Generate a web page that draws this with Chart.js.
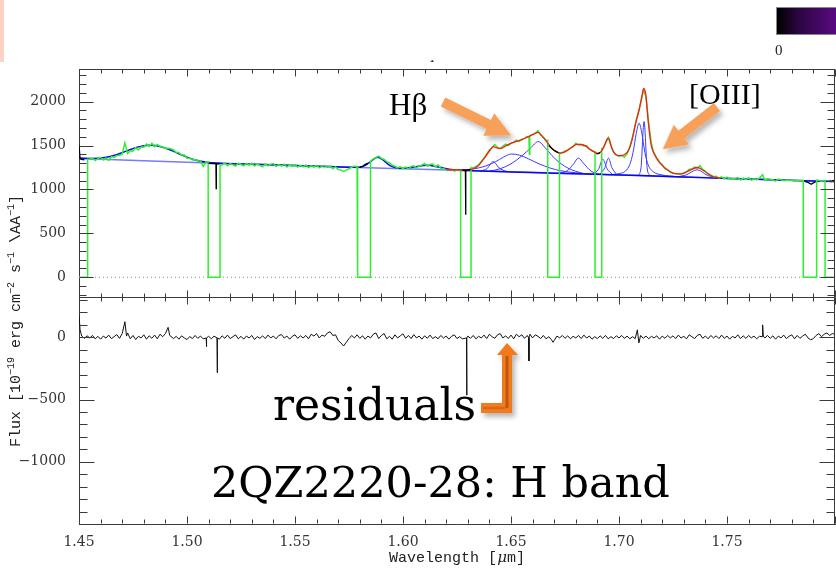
<!DOCTYPE html>
<html><head><meta charset="utf-8">
<script src="https://cdn.jsdelivr.net/npm/chart.js@4"></script>
<style>
html,body{margin:0;padding:0;background:#fff;}
#wrap{position:relative;width:836px;height:570px;overflow:hidden;background:#fff;}
#c{position:absolute;left:0;top:0;}
.ov{position:absolute;white-space:nowrap;line-height:1;color:#000;}
sup{font-size:10px;vertical-align:6px;line-height:0;}
</style></head><body>
<div id="wrap">
<canvas id="c" width="836" height="570"></canvas>
<div style="position:absolute;left:0;top:0;width:4px;height:62px;background:#fcd3c3;"></div>
<div style="position:absolute;left:776px;top:7px;width:62px;height:26px;border:1px solid #888;background:linear-gradient(to right,#000 0%,#2c0640 35%,#5c0a88 100%);"></div>
<div class="ov" style="left:775px;top:42px;font:15px 'Liberation Serif';color:#222;">0</div>
<div style="position:absolute;left:428px;top:60px;width:8px;height:6px;overflow:hidden;"><span style="position:absolute;left:1px;top:-6px;font:10px 'DejaVu Serif';line-height:1;">1</span></div>
<div class="ov" style="left:16px;top:321px;transform:translate(-50%,-50%) rotate(-90deg);font:15px 'Liberation Mono';color:#222;">Flux [10<sup>−19</sup> erg cm<sup>−2</sup> s<sup>−1</sup> \AA<sup>−1</sup>]</div>
<div class="ov" style="left:457px;top:557px;transform:translate(-50%,-50%);font:15px 'Liberation Mono';color:#222;">Wavelength [<i style="font-family:'DejaVu Serif'">μ</i>m]</div>
<div class="ov" style="left:389px;top:87px;font:31px 'Liberation Serif';">Hβ</div>
<div class="ov" style="left:689px;top:77px;font:30px 'Liberation Serif';">[OIII]</div>
<div class="ov" style="left:273px;top:379px;font:44px 'DejaVu Serif';">residuals</div>
<div class="ov" style="left:211px;top:457px;font:43px 'DejaVu Serif';">2QZ2220-28: H band</div>
<svg style="position:absolute;left:0;top:0;" width="836" height="570">
<defs>
<filter id="sh" x="-30%" y="-30%" width="160%" height="160%"><feDropShadow dx="3" dy="4" stdDeviation="2.5" flood-color="#000" flood-opacity="0.28"/></filter>
<linearGradient id="lg" x1="0" y1="0" x2="1" y2="0"><stop offset="0" stop-color="#f7892c"/><stop offset="0.5" stop-color="#b54a05"/><stop offset="1" stop-color="#f7892c"/></linearGradient>
<linearGradient id="lg2" x1="0" y1="0" x2="0" y2="1"><stop offset="0" stop-color="#f7892c"/><stop offset="0.5" stop-color="#d86010"/><stop offset="1" stop-color="#f7892c"/></linearGradient>
</defs>
<g filter="url(#sh)" fill="#f6a05a">
<g transform="translate(443,102) rotate(26.2)"><polygon points="0,-5 51,-5 51,-12.5 76,0 51,12.5 51,5 0,5"/></g>
<g transform="translate(717,107) rotate(142.1)"><polygon points="0,-5 45,-5 45,-12.5 69,0 45,12.5 45,5 0,5"/></g>
</g>
<g filter="url(#sh)">
<polygon fill="#f27a1c" points="481,403 502,403 502,355 497,355 507,343 518,355 512,355 512,413 481,413"/>
<rect x="504" y="356" width="6" height="52" fill="url(#lg)"/>
<rect x="483" y="405" width="22" height="6" fill="url(#lg2)"/>
</g>
</svg>
</div>
<script>
// ---------------- data ----------------
const xTicks = [1.45, 1.50, 1.55, 1.60, 1.65, 1.70, 1.75];
const yTopTicks = [0, 500, 1000, 1500, 2000];
const yBotTicks = [-1000, -500, 0];

// observed spectrum (wavelength in micron, flux in 1e-19 erg/cm2/s/A)
const wave = [1.45000,1.45050,1.45125,1.45250,1.45500,1.45625,1.45750,1.45875,1.46000,1.46125,1.46250,1.46375,1.46500,1.46625,1.46750,1.46875,1.47000,1.47125,1.47250,1.47375,1.47500,1.47625,1.47750,1.47875,1.48000,1.48125,1.48250,1.48375,1.48500,1.48625,1.48750,1.48875,1.49000,1.49125,1.49250,1.49375,1.49500,1.49625,1.49750,1.49875,1.50000,1.50125,1.50250,1.50375,1.50500,1.50625,1.50750,1.50875,1.51000,1.51125,1.51250,1.51340,1.51350,1.51360,1.51500,1.51625,1.51750,1.51875,1.52000,1.52125,1.52250,1.52375,1.52500,1.52625,1.52750,1.52875,1.53000,1.53125,1.53250,1.53375,1.53500,1.53625,1.53750,1.53875,1.54000,1.54125,1.54250,1.54375,1.54500,1.54625,1.54750,1.54875,1.55000,1.55125,1.55250,1.55375,1.55500,1.55625,1.55750,1.55875,1.56000,1.56125,1.56250,1.56375,1.56500,1.56625,1.56750,1.56875,1.57000,1.57125,1.57250,1.57375,1.57500,1.57625,1.57750,1.57875,1.58000,1.58125,1.58250,1.58375,1.58500,1.58625,1.58750,1.58875,1.59000,1.59125,1.59250,1.59375,1.59500,1.59625,1.59750,1.59875,1.60000,1.60125,1.60250,1.60375,1.60500,1.60625,1.60750,1.60875,1.61000,1.61125,1.61250,1.61375,1.61500,1.61625,1.61750,1.61875,1.62000,1.62125,1.62250,1.62375,1.62500,1.62625,1.62750,1.62890,1.62900,1.62910,1.63000,1.63125,1.63250,1.63375,1.63500,1.63625,1.63750,1.63875,1.64000,1.64125,1.64250,1.64375,1.64500,1.64625,1.64750,1.64875,1.65000,1.65125,1.65250,1.65375,1.65500,1.65625,1.65750,1.65830,1.65850,1.65870,1.66000,1.66125,1.66250,1.66375,1.66500,1.66625,1.66750,1.66875,1.67000,1.67125,1.67200,1.67250,1.67375,1.67500,1.67625,1.67750,1.67875,1.68000,1.68125,1.68250,1.68375,1.68500,1.68625,1.68750,1.68850,1.68950,1.69000,1.69125,1.69250,1.69375,1.69500,1.69625,1.69750,1.69875,1.70000,1.70125,1.70250,1.70375,1.70500,1.70650,1.70800,1.70930,1.71050,1.71140,1.71250,1.71400,1.71500,1.71600,1.71750,1.71900,1.72000,1.72125,1.72250,1.72375,1.72500,1.72625,1.72750,1.72875,1.73000,1.73125,1.73250,1.73375,1.73500,1.73625,1.73750,1.73875,1.74000,1.74125,1.74250,1.74375,1.74500,1.74625,1.74750,1.74875,1.75000,1.75125,1.75250,1.75375,1.75500,1.75625,1.75750,1.75875,1.76000,1.76125,1.76250,1.76375,1.76500,1.76650,1.76750,1.76875,1.77000,1.77125,1.77250,1.77375,1.77500,1.77625,1.77750,1.77875,1.78000,1.78125,1.78250,1.78375,1.78500,1.78600,1.78750,1.78900,1.79000,1.79100,1.79250,1.79375,1.79500,1.79750,1.79850,1.79920,1.80000];
const flux = [1505,1350,1342,1338,1345,1358,1330,1352,1366,1336,1360,1332,1372,1366,1386,1388,1404,1530,1410,1442,1436,1474,1450,1484,1480,1516,1490,1526,1486,1512,1492,1486,1466,1468,1464,1450,1422,1420,1392,1392,1356,1356,1336,1340,1324,1324,1262,1312,1298,1294,1296,1292,1010,1290,1291,1280,1302,1270,1294,1280,1266,1300,1284,1270,1296,1276,1298,1266,1290,1274,1258,1292,1270,1288,1296,1262,1282,1266,1288,1256,1279,1264,1284,1254,1274,1258,1280,1248,1270,1254,1274,1246,1266,1272,1252,1268,1236,1256,1226,1222,1205,1220,1236,1254,1266,1255,1256,1262,1286,1298,1322,1348,1366,1380,1354,1342,1316,1302,1276,1264,1246,1259,1236,1256,1232,1262,1270,1246,1266,1278,1296,1264,1284,1290,1256,1280,1240,1240,1224,1216,1230,1208,1224,1212,1222,1220,712,1218,1224,1230,1246,1262,1281,1318,1356,1405,1450,1478,1512,1478,1464,1494,1516,1500,1528,1536,1562,1546,1572,1582,1604,1600,1400,1612,1628,1640,1670,1618,1594,1560,1500,1470,1445,1428,1418,1416,1420,1440,1448,1472,1486,1526,1508,1512,1496,1500,1458,1444,1430,1408,1405,1420,1466,1525,1590,1500,1426,1390,1378,1386,1370,1405,1486,1622,1796,1910,2040,2136,2052,1706,1520,1426,1360,1306,1284,1234,1225,1196,1184,1182,1176,1176,1190,1201,1230,1234,1254,1244,1272,1226,1210,1172,1162,1146,1150,1128,1144,1122,1140,1118,1122,1126,1135,1108,1129,1112,1133,1104,1124,1109,1130,1168,1104,1122,1117,1108,1096,1118,1112,1100,1104,1104,1105,1096,1101,1102,1101,1092,1080,1060,1076,1085,1105,1094,1101,1098,1090,1102,1095];

// masked (rejected) windows
const maskStart = [1.4500, 1.5098, 1.5790, 1.6267, 1.6670, 1.6889, 1.7853, 1.7954];
const maskEnd   = [1.4540, 1.5153, 1.5849, 1.6315, 1.6724, 1.6920, 1.7915, 1.8000];

// fitted continuum
const contWave = [1.45, 1.50, 1.55, 1.60, 1.65, 1.70, 1.75, 1.80];
const contFlux = [1352, 1310, 1272, 1237, 1202, 1166, 1127, 1090];

// continuum + broad bumps model (dark blue)
const modelWave = [1.450,1.456,1.462,1.467,1.472,1.477,1.4825,1.488,1.493,1.498,1.503,1.510,1.520,1.535,1.550,1.565,1.575,1.580,1.5825,1.585,1.5883,1.591,1.594,1.597,1.600,1.605,1.611,1.617,1.622,1.630,1.650,1.670,1.690,1.710,1.730,1.750,1.770,1.800];
const modelFlux = [1357,1354,1364,1392,1438,1482,1503,1487,1442,1388,1342,1306,1294,1283,1272,1261,1253,1252,1274,1318,1366,1330,1272,1248,1242,1256,1276,1252,1228,1215,1200,1186,1172,1158,1142,1125,1111,1090];

// total fit (red)
const totalWave = [1.620,1.626,1.631,1.6345,1.6375,1.6405,1.6418,1.6435,1.6455,1.6478,1.6500,1.6525,1.655,1.6575,1.660,1.6626,1.6645,1.666,1.6675,1.669,1.6710,1.6727,1.675,1.678,1.6805,1.6825,1.6845,1.6865,1.6885,1.6905,1.6925,1.6951,1.6968,1.6985,1.7003,1.7025,1.7045,1.706,1.7075,1.7093,1.7105,1.7114,1.7124,1.7135,1.7148,1.716,1.719,1.7225,1.726,1.729,1.7325,1.7362,1.7398,1.7437,1.747];
const totalFlux = [1226,1222,1226,1262,1352,1455,1488,1474,1468,1500,1525,1548,1568,1596,1624,1650,1605,1560,1512,1468,1428,1414,1428,1478,1514,1512,1496,1458,1428,1412,1462,1586,1462,1398,1385,1395,1450,1560,1730,1905,2045,2150,2080,1780,1520,1420,1300,1222,1180,1178,1215,1250,1205,1145,1132];

// individual line components (blue)
const hbNarrowWave = [1.636,1.639,1.6405,1.6418,1.643,1.6445,1.648];
const hbNarrowFlux = [1210,1240,1290,1318,1292,1245,1204];
const hbBroadWave = [1.625,1.632,1.638,1.643,1.6465,1.6503,1.654,1.658,1.663,1.668,1.673,1.680,1.688];
const hbBroadFlux = [1220,1232,1265,1318,1368,1404,1390,1350,1292,1245,1213,1190,1175];
const hbRedWave = [1.640,1.645,1.650,1.655,1.659,1.6626,1.666,1.669,1.6725,1.677,1.683];
const hbRedFlux = [1207,1236,1292,1382,1470,1545,1470,1385,1305,1235,1185];
const l1681Wave = [1.672,1.676,1.679,1.6812,1.6835,1.687,1.691];
const l1681Flux = [1186,1212,1292,1357,1300,1210,1172];
const l1692Wave = [1.688,1.6905,1.6925,1.6945,1.697];
const l1692Flux = [1173,1230,1345,1235,1170];
const l1695Wave = [1.691,1.6935,1.6951,1.6967,1.699];
const l1695Flux = [1171,1250,1357,1250,1167];
const o3BroadWave = [1.695,1.700,1.703,1.705,1.7065,1.708,1.7093,1.7105,1.712,1.7135,1.716,1.720,1.726];
const o3BroadFlux = [1169,1180,1210,1285,1420,1640,1755,1650,1420,1280,1200,1165,1148];
const o3NarrowWave = [1.709,1.7102,1.7116,1.713,1.7142];
const o3NarrowFlux = [1160,1250,1773,1250,1158];
const l1736Wave = [1.727,1.731,1.7362,1.741,1.746];
const l1736Flux = [1145,1165,1224,1160,1132];

// residuals (data - fit)
const residWave = [1.45000,1.45050,1.45125,1.45250,1.45375,1.45500,1.45625,1.45750,1.45875,1.46000,1.46125,1.46250,1.46375,1.46500,1.46625,1.46750,1.46875,1.47000,1.47125,1.47200,1.47250,1.47375,1.47500,1.47625,1.47750,1.47875,1.48000,1.48125,1.48250,1.48375,1.48500,1.48625,1.48750,1.48875,1.49000,1.49125,1.49200,1.49375,1.49500,1.49625,1.49750,1.49875,1.50000,1.50125,1.50250,1.50375,1.50500,1.50625,1.50750,1.50890,1.50900,1.50910,1.51000,1.51125,1.51250,1.51390,1.51400,1.51410,1.51500,1.51625,1.51750,1.51875,1.52000,1.52125,1.52250,1.52375,1.52500,1.52625,1.52750,1.52875,1.53000,1.53125,1.53250,1.53375,1.53500,1.53625,1.53750,1.53875,1.54000,1.54125,1.54250,1.54375,1.54500,1.54625,1.54750,1.54875,1.55000,1.55125,1.55250,1.55375,1.55500,1.55625,1.55750,1.55875,1.56000,1.56125,1.56250,1.56375,1.56500,1.56625,1.56750,1.56875,1.57000,1.57125,1.57250,1.57375,1.57500,1.57625,1.57750,1.57875,1.58000,1.58125,1.58250,1.58375,1.58500,1.58625,1.58750,1.58875,1.59000,1.59125,1.59250,1.59375,1.59500,1.59625,1.59750,1.59875,1.60000,1.60125,1.60250,1.60375,1.60500,1.60625,1.60750,1.60875,1.61000,1.61125,1.61250,1.61375,1.61500,1.61625,1.61750,1.61875,1.62000,1.62125,1.62250,1.62375,1.62500,1.62625,1.62750,1.62940,1.62950,1.62960,1.63000,1.63125,1.63250,1.63375,1.63500,1.63625,1.63750,1.63875,1.64000,1.64125,1.64250,1.64375,1.64500,1.64625,1.64750,1.64875,1.65000,1.65125,1.65250,1.65375,1.65500,1.65625,1.65750,1.65820,1.65830,1.65840,1.65875,1.66000,1.66125,1.66250,1.66375,1.66500,1.66625,1.66750,1.66875,1.66950,1.67000,1.67125,1.67250,1.67375,1.67500,1.67625,1.67750,1.67875,1.68000,1.68125,1.68250,1.68375,1.68500,1.68625,1.68750,1.68875,1.69000,1.69125,1.69250,1.69375,1.69500,1.69625,1.69750,1.69875,1.70000,1.70125,1.70250,1.70375,1.70500,1.70625,1.70750,1.70850,1.70920,1.71000,1.71125,1.71250,1.71375,1.71500,1.71625,1.71750,1.71875,1.72000,1.72125,1.72250,1.72375,1.72500,1.72625,1.72750,1.72875,1.73000,1.73125,1.73250,1.73375,1.73500,1.73625,1.73750,1.73875,1.74000,1.74125,1.74250,1.74375,1.74500,1.74625,1.74750,1.74875,1.75000,1.75125,1.75250,1.75375,1.75500,1.75625,1.75750,1.75875,1.76000,1.76125,1.76250,1.76375,1.76500,1.76640,1.76650,1.76680,1.76750,1.76875,1.77000,1.77125,1.77250,1.77375,1.77500,1.77625,1.77750,1.77875,1.78000,1.78125,1.78250,1.78375,1.78500,1.78625,1.78750,1.78875,1.79000,1.79125,1.79250,1.79375,1.79500,1.79625,1.79750,1.79875,1.80000];
const residFlux = [180,60,10,-8,12,-5,15,-12,8,-15,10,-6,18,-10,5,22,-8,30,125,10,35,-12,15,-18,8,-5,20,-15,12,-8,18,-12,25,5,30,80,15,-10,8,-15,12,-5,-18,6,-10,15,-8,10,-12,-5,-75,-5,8,-12,10,-5,-285,-5,-15,12,-8,18,-10,5,20,-12,8,-15,10,-5,15,-18,6,-8,12,-10,18,-5,10,-12,15,22,-6,10,-15,8,20,-8,12,-5,15,-12,25,10,30,-5,18,8,35,45,15,20,-25,-45,-70,-40,-10,15,-5,20,-8,12,-15,10,-5,25,35,-10,15,30,-12,8,-15,20,-5,12,28,-8,15,-10,22,-5,10,-15,12,-8,18,-10,5,-12,15,-6,10,-15,8,20,-10,5,-12,-5,-465,-5,10,-8,15,-12,8,-5,18,-10,25,5,-8,20,30,-5,12,-10,18,-12,25,5,20,-8,15,-5,-190,10,25,-5,20,8,-10,15,-12,5,-20,-40,-25,10,-5,15,-8,12,-12,8,-5,15,-10,18,-6,10,-15,5,-10,12,-8,15,-12,5,-10,12,-5,15,-8,10,-12,5,-10,60,-45,15,-8,10,-12,8,-5,12,-15,10,-8,15,-5,12,-10,18,-6,8,-12,20,5,-10,15,25,-8,10,-12,15,-5,12,-10,18,-8,10,-15,8,-5,20,-10,12,-8,15,-5,10,-12,8,5,100,10,-5,15,-8,12,-15,10,-5,18,-10,8,20,-12,15,-8,10,25,-5,-20,-10,15,30,5,25,35,15,30,25];

// ---------------- build plotted series ----------------
const pts = (w, f) => w.map((v, i) => ({x: v, y: f[i]}));
const maskIndex = (v) => maskStart.findIndex((s, k) => v >= s && v <= maskEnd[k]);

// green: good data, masked windows drawn down to zero
const greenPts = [];
let prevMask = -1, prevY = null;
for (let i = 0; i < wave.length; i++) {
  const m = maskIndex(wave[i]);
  if (m >= 0) {
    if (prevMask !== m) {
      if (prevY !== null) greenPts.push({x: maskStart[m], y: prevY});
      greenPts.push({x: maskStart[m], y: 0});
      greenPts.push({x: maskEnd[m], y: 0});
    }
  } else {
    if (prevMask >= 0) greenPts.push({x: maskEnd[prevMask], y: flux[i]});
    greenPts.push({x: wave[i], y: flux[i]});
    prevY = flux[i];
  }
  prevMask = m;
}
// black: raw data inside masked windows
const blackPts = [];
let lastM = -1;
for (let i = 0; i < wave.length; i++) {
  const m = maskIndex(wave[i]);
  if (m >= 0) {
    if (lastM >= 0 && lastM !== m) blackPts.push({x: wave[i] - 0.0001, y: null});
    blackPts.push({x: wave[i], y: flux[i]});
    lastM = m;
  } else if (lastM >= 0) {
    blackPts.push({x: wave[i], y: null});
    lastM = -1;
  }
}

const comps = [
  [hbNarrowWave, hbNarrowFlux], [hbBroadWave, hbBroadFlux], [hbRedWave, hbRedFlux],
  [l1681Wave, l1681Flux], [l1692Wave, l1692Flux], [l1695Wave, l1695Flux],
  [o3BroadWave, o3BroadFlux], [o3NarrowWave, o3NarrowFlux], [l1736Wave, l1736Flux]
];

const base = {pointRadius: 0, fill: false, yAxisID: 'yTop'};
const datasets = [
  Object.assign({}, base, {label: 'masked data', data: blackPts, borderColor: '#000', borderWidth: 1.3, spanGaps: false, order: 0, tension: 0}),
  Object.assign({}, base, {label: 'total fit', data: pts(totalWave, totalFlux), borderColor: '#ff1a1a', borderWidth: 1.3, cubicInterpolationMode: 'monotone', order: 1}),
  Object.assign({}, base, {label: 'data', data: greenPts, borderColor: '#2ef02e', borderWidth: 1.5, tension: 0, order: 2}),
  Object.assign({}, base, {label: 'model', data: pts(modelWave, modelFlux), borderColor: '#0808e8', borderWidth: 1.5, cubicInterpolationMode: 'monotone', order: 3}),
];
comps.forEach((c, k) => datasets.push(Object.assign({}, base, {label: 'comp' + k, data: pts(c[0], c[1]), borderColor: '#3a3aff', borderWidth: 1, cubicInterpolationMode: 'monotone', order: 4})));
datasets.push(Object.assign({}, base, {label: 'continuum', data: pts(contWave, contFlux), borderColor: '#7a7aff', borderWidth: 1.5, cubicInterpolationMode: 'monotone', order: 5}));
datasets.push(Object.assign({}, base, {label: 'zero', data: pts([1.45, 1.80], [0, 0]), borderColor: '#8a8a8a', borderWidth: 1, borderDash: [1, 3], order: 6}));
datasets.push({label: 'residuals', data: pts(residWave, residFlux), yAxisID: 'yBot', borderColor: '#111', borderWidth: 1, pointRadius: 0, fill: false, tension: 0, order: 0});

// ---------------- frame & inward tick marks ----------------
const frameTicks = {
  id: 'frameTicks',
  afterDatasetsDraw(chart) {
    const {ctx, chartArea: a, scales} = chart;
    const x = scales.x, yT = scales.yTop, yB = scales.yBot;
    ctx.save();
    ctx.strokeStyle = '#3a3a3a';
    ctx.lineWidth = 1;
    ctx.beginPath();
    const seg = (x1, y1, x2, y2) => { ctx.moveTo(x1, y1); ctx.lineTo(x2, y2); };
    const top = Math.round(a.top) + 0.5, bot = Math.round(a.bottom) - 0.5;
    const lft = Math.round(a.left) + 0.5, rgt = Math.round(a.right) - 0.5;
    const sep = Math.round(yT.bottom) + 0.5;
    seg(a.left, top, a.right, top);
    seg(rgt, a.top, rgt, a.bottom);
    seg(a.left, sep, a.right, sep);
    for (let k = 0; k <= 35; k++) {
      const v = 1.45 + k * 0.01;
      const px = Math.round(x.getPixelForValue(v)) + 0.5;
      const len = (k % 5 === 0) ? 7 : 4;
      seg(px, top, px, top + len);
      seg(px, sep, px, sep - len);
      seg(px, sep, px, sep + len);
      seg(px, bot, px, bot - len);
    }
    for (let v = -200; v <= 2300; v += 100) {
      const py = Math.round(yT.getPixelForValue(v)) + 0.5;
      const len = (v % 500 === 0) ? 14 : 7;
      seg(lft, py, lft + len, py);
      seg(rgt, py, rgt - len, py);
    }
    for (let v = -1400; v <= 300; v += 100) {
      const py = Math.round(yB.getPixelForValue(v)) + 0.5;
      const len = (v % 500 === 0) ? 15 : 8;
      seg(lft, py, lft + len, py);
      seg(rgt, py, rgt - len, py);
    }
    ctx.stroke();
    ctx.restore();
  }
};

const tickFont = {family: "'DejaVu Serif'", size: 14};
const fmt = v => (v < 0 ? '\u2212' : '') + Math.abs(v);

new Chart(document.getElementById('c'), {
  type: 'line',
  data: {datasets},
  plugins: [frameTicks],
  options: {
    responsive: false,
    devicePixelRatio: 1,
    animation: false,
    layout: {padding: {left: 0, right: 1, top: 69, bottom: 0}},
    plugins: {legend: {display: false}, tooltip: {enabled: false}},
    scales: {
      x: {
        type: 'linear', position: 'bottom', min: 1.45, max: 1.80,
        grid: {display: false},
        border: {display: true, color: '#3a3a3a'},
        ticks: {font: tickFont, color: '#333', padding: 2, maxRotation: 0, autoSkip: false, callback: v => v.toFixed(2)},
        afterBuildTicks: s => { s.ticks = xTicks.map(v => ({value: v})); },
        afterFit: s => { s.height = 46; }
      },
      yBot: {
        type: 'linear', position: 'left', stack: 'panels', stackWeight: 1, weight: 1,
        min: -1500, max: 328,
        grid: {display: false},
        border: {display: true, color: '#3a3a3a'},
        ticks: {font: tickFont, color: '#333', padding: 5, callback: fmt},
        afterBuildTicks: s => { s.ticks = yBotTicks.map(v => ({value: v})); },
        afterFit: s => { s.width = 79; }
      },
      yTop: {
        type: 'linear', position: 'left', stack: 'panels', stackWeight: 1, weight: 2,
        min: -219, max: 2372,
        grid: {display: false},
        border: {display: true, color: '#3a3a3a'},
        ticks: {font: tickFont, color: '#333', padding: 5, callback: fmt},
        afterBuildTicks: s => { s.ticks = yTopTicks.map(v => ({value: v})); },
        afterFit: s => { s.width = 79; }
      }
    }
  }
});
</script>
</body></html>
